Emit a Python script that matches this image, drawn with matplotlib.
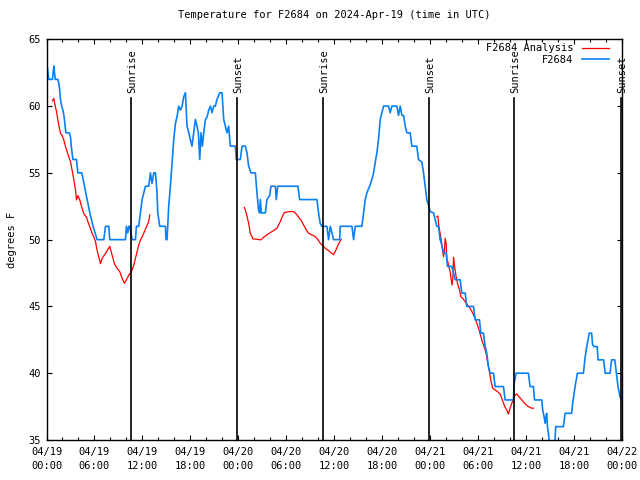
import matplotlib
matplotlib.use("Agg")
import matplotlib.pyplot as plt
import numpy as np

plt.rcParams['font.family'] = ['DejaVu Sans Mono']

# hours since 2024-04-19 00:00 UTC
obs_hours = [0.0, 0.08, 0.29, 0.5, 0.75, 0.83, 0.92, 1.0, 1.1, 1.42, 1.54, 1.65, 1.75, 1.9, 2.05, 2.2, 2.3, 2.42, 2.85, 3.0,
             3.1, 3.3, 3.75, 3.92, 4.42, 4.75, 5.08, 5.42, 5.83, 6.33, 7.17, 7.38, 7.79, 7.92, 9.88, 10.0, 10.17, 10.3, 10.42, 10.71,
             11.13, 11.25, 11.54, 11.75, 11.96, 12.38, 12.79, 13.0, 13.2, 13.42, 13.63, 13.83, 13.92, 14.17, 14.88, 14.95, 15.08, 15.29, 15.5, 15.71,
             15.92, 16.13, 16.33, 16.54, 16.75, 16.96, 17.17, 17.38, 17.58, 17.8, 18.0, 18.2, 18.42, 18.63, 18.83, 19.0, 19.17, 19.33, 19.5, 19.67,
             19.88, 20.1, 20.29, 20.5, 20.71, 20.92, 21.13, 21.33, 21.67, 21.96, 22.17, 22.38, 22.58, 22.79, 23.0, 23.63, 23.75, 24.25, 24.46, 24.88,
             25.08, 25.29, 25.58, 26.13, 26.33, 26.54, 26.67, 26.75, 26.88, 27.38, 27.58, 27.92, 28.08, 28.63, 28.75, 28.92, 31.46, 31.67, 33.83, 34.04,
             34.25, 34.46, 35.08, 35.29, 35.5, 35.71, 35.92, 36.67, 36.75, 38.21, 38.42, 38.63, 39.46, 39.67, 39.88, 40.08, 40.42, 40.71, 40.92, 41.13,
             41.33, 41.54, 41.75, 41.96, 42.17, 42.79, 43.0, 43.21, 43.83, 44.04, 44.25, 44.46, 44.67, 44.88, 45.08, 45.5, 45.71, 46.33, 46.54, 46.96,
             47.17, 47.38, 47.58, 47.79, 48.0, 48.42, 48.63, 48.83, 49.04, 49.25, 49.46, 49.67, 50.0, 50.17, 50.71, 50.92, 51.13, 51.75, 51.96, 52.38,
             52.58, 53.42, 53.63, 54.17, 54.33, 54.67, 54.88, 55.08, 55.29, 55.5, 55.92, 56.13, 57.17, 57.38, 58.42, 58.5, 58.75, 60.29, 60.5, 60.92,
             61.05, 61.96, 62.08, 62.25, 62.38, 62.5, 62.58, 62.67, 62.79, 63.0, 63.6, 63.7, 64.67, 64.88, 65.7, 65.83, 66.13, 66.42, 67.17, 67.4,
             67.6, 67.9, 68.2, 68.33, 68.5, 68.9, 69.0, 69.7, 69.9, 70.5, 70.7, 71.1, 71.3, 71.5, 71.75, 71.9]
obs_temp = [63, 63, 62, 62, 62, 62.5, 63, 62.5, 62, 62, 61.7, 61.2, 60.5, 60, 59.7, 59.2, 58.7, 58, 58, 57.7,
            57, 56, 56, 55, 55, 54, 53, 52, 51, 50, 50, 51, 51, 50, 50, 51, 50.5, 51, 51, 50,
            50, 51, 51, 52, 53, 54, 54, 55, 54.2, 55, 55, 53.5, 52, 51, 51, 50, 50, 52.5, 54, 55.8,
            57.5, 58.7, 59.2, 60, 59.7, 60, 60.7, 61, 58.5, 58, 57.5, 57, 58, 59, 58.5, 58, 56, 58, 57, 58,
            59, 59.2, 59.7, 60, 59.5, 60, 60, 60.5, 61, 61, 59, 58.5, 58, 58.5, 57, 57, 56, 56, 57, 57,
            56.5, 55.5, 55, 55, 53.5, 52.2, 52, 53, 52, 52, 53, 53.3, 54, 54, 53, 54, 54, 53, 53, 52,
            51.2, 51, 51, 50, 51, 50.5, 50, 50, 51, 51, 50, 51, 51, 52, 53, 53.5, 54, 54.5, 55, 55.8,
            56.5, 57.5, 59, 59.5, 60, 60, 59.5, 60, 60, 59.3, 60, 59.3, 59.3, 58.5, 58, 58, 57, 57, 56, 55.8,
            55, 54, 53, 52.6, 52.1, 52, 51.5, 51, 51, 50, 49.6, 49, 49, 48, 48, 47.5, 47, 47, 46, 46,
            45, 45, 44, 44, 43, 43, 42, 41.5, 40.5, 40, 40, 39, 39, 38, 38, 39.2, 40, 40, 39, 39,
            38, 38, 37.25, 36.75, 36.25, 36.8, 37, 36, 35.5, 34.5, 34.5, 36, 36, 37, 37, 37.75, 39, 40, 40, 41.25,
            42, 43, 43, 42.1, 42, 42, 41, 41, 40, 40, 41, 41, 40, 39, 38.25, 38]

# analysis series, nan marks the gaps between runs
ana_hours = [0.75, 0.92, 1.0, 1.25, 1.42, 1.58, 1.75, 1.96, 2.17, 2.38, 2.58, 2.79, 3.0, 3.2, 3.42, 3.63, 3.75, 3.92, 4.17, 4.33,
             4.58, 4.75, 5.0, 5.17, 5.42, 5.7, 5.92, 6.13, 6.33, 6.54, 6.75, 6.96, 7.38, 7.92, 8.2, 8.5, 8.83, 9.17, 9.46, 9.75,
             10.08, 10.42, 10.71, 10.92, 11.13, 11.33, 11.54, 11.75, 11.96, 12.25, 12.5, 12.79, 12.92, np.nan,
             24.75, 25.0, 25.29, 25.5, 25.83, 26.33, 26.83, 27.17, 27.58, 28.0, 28.42, 28.83, 29.04, 29.25, 29.46, 29.75, 30.08, 30.5, 30.92, 31.25,
             31.54, 31.83, 32.17, 32.5, 32.79, 33.21, 33.63, 33.92, 34.25, 34.58, 34.88, 35.29, 35.58, 35.92, 36.25, 36.54, 36.88, np.nan,
             48.83, 48.96, 49.04, 49.17, 49.33, 49.46, 49.67, 49.79, 49.88, 50.0, 50.08, 50.2, 50.33, 50.5, 50.63, 50.75, 50.88, 50.92, 51.04, 51.21,
             51.42, 51.67, 51.83, 52.08, 52.38, 52.67, 53.0, 53.33, 53.63, 53.92, 54.17, 54.46, 54.75, 55.0, 55.21, 55.42, 55.58, 55.83, 56.13, 56.42,
             56.75, 56.96, 57.17, 57.38, 57.58, 57.79, 58.0, 58.21, 58.42, 58.63, 58.83, 59.17, 59.46, 59.75, 60.0, 60.29, 60.71, 60.92]
ana_temp = [60.4, 60.58, 60.25, 59.6, 58.95, 58.45, 57.95, 57.8, 57.45, 56.95, 56.6, 56.2, 55.85, 55.2, 54.5, 53.7, 52.97, 53.3, 52.97, 52.6,
            52.1, 51.85, 51.7, 51.35, 50.97, 50.47, 50.2, 49.85, 49.2, 48.7, 48.2, 48.6, 48.97, 49.5, 48.85, 48.2, 47.85, 47.6, 47.1, 46.73,
            47.1, 47.45, 47.73, 48.1, 48.6, 49.1, 49.6, 49.97, 50.2, 50.6, 50.97, 51.35, 51.85, np.nan,
            52.42, 51.97, 51.23, 50.48, 50.05, 50.03, 49.98, 50.18, 50.35, 50.53, 50.68, 50.85, 51.1, 51.35, 51.68, 52.02, 52.07, 52.1, 52.1, 51.92,
            51.68, 51.47, 51.1, 50.73, 50.48, 50.35, 50.23, 50.03, 49.73, 49.53, 49.35, 49.18, 49.03, 48.88, 49.28, 49.68, 50.03, np.nan,
            51.72, 51.77, 51.22, 50.72, 50.22, 49.6, 48.73, 49.23, 50.1, 49.73, 48.6, 48.35, 47.98, 47.6, 46.98, 46.6, 47.48, 48.68, 48.1, 47.35,
            46.73, 46.23, 45.73, 45.6, 45.36, 45.11, 44.86, 44.49, 44.11, 43.61, 43.12, 42.49, 41.99, 41.49, 40.74, 40.12, 39.5, 38.87, 38.75, 38.62,
            38.45, 38.12, 37.75, 37.45, 37.25, 36.95, 37.38, 37.75, 38.05, 38.37, 38.45, 38.2, 38.0, 37.8, 37.63, 37.5, 37.38, 37.38]

sun_hours = [10.6, 23.8, 34.55, 47.8, 58.55, 71.88]
sun_labels = ["Sunrise", "Sunset", "Sunrise", "Sunset", "Sunrise", "Sunset"]

xtick_hours = list(range(0, 73, 6))
xtick_labels = ["04/19\n00:00", "04/19\n06:00", "04/19\n12:00", "04/19\n18:00",
                "04/20\n00:00", "04/20\n06:00", "04/20\n12:00", "04/20\n18:00",
                "04/21\n00:00", "04/21\n06:00", "04/21\n12:00", "04/21\n18:00",
                "04/22\n00:00"]
ytick_vals = [35, 40, 45, 50, 55, 60, 65]

fig = plt.figure(figsize=(6.4, 4.8), dpi=100)
ax = fig.add_axes([46.5 / 640, 1 - 440 / 480, (622 - 46.5) / 640, (440 - 39.3) / 480])

ax.plot(ana_hours, ana_temp, '-', color='#ff0000', lw=0.9, label='F2684 Analysis')
ax.plot(obs_hours, obs_temp, '-', color='#0a80f5', lw=1.2, label='F2684')

for h, lab in zip(sun_hours, sun_labels):
    ax.plot([h, h], [35, 60.6], color='black', lw=1.2)
    ax.text(h + 0.15, 61.0, lab, rotation=90, ha='center', va='bottom', fontsize=7.5)

ax.set_xlim(0, 72)
ax.set_ylim(35, 65)
ax.set_xticks(xtick_hours)
ax.set_xticklabels(xtick_labels, fontsize=7.5, linespacing=1.5)
ax.set_xticks(range(0, 73, 2), minor=True)
ax.set_yticks(ytick_vals)
ax.set_yticklabels([str(v) for v in ytick_vals], fontsize=7.5)
ax.tick_params(which='both', direction='in', top=True, right=True, width=0.8)
ax.tick_params(which='major', length=3.5, pad=4)
ax.tick_params(which='minor', length=2)
ax.tick_params(axis='x', pad=5)
for s in ax.spines.values():
    s.set_linewidth(1.0)

ax.set_ylabel('degrees F', fontsize=7.5, labelpad=8)
ax.set_title('Temperature for F2684 on 2024-Apr-19 (time in UTC)', fontsize=7.5, pad=15)

leg = ax.legend(loc='upper right', bbox_to_anchor=(0.984, 1.0), borderaxespad=0, frameon=False, fontsize=7.5,
                markerfirst=False, handlelength=2.6, labelspacing=0.1, handletextpad=0.8)

fig.savefig('out.png', dpi=100)
